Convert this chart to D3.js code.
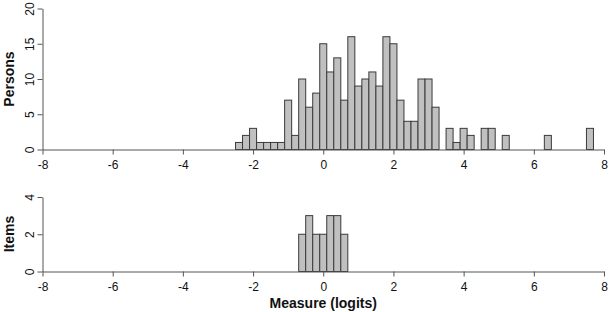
<!DOCTYPE html>
<html>
<head>
<meta charset="utf-8">
<script src="https://cdn.jsdelivr.net/npm/d3@7"></script>
<style>
  html, body { margin: 0; padding: 0; background: #fff; }
  svg { display: block; }
  text { font-family: "Liberation Sans", Arial, sans-serif; fill: #111; }
</style>
</head>
<body>
<svg id="chart" width="609" height="312"></svg>
<script>
// ---- data ----
const binWidth = 0.2;
const personCenters = [-2.4, -2.2, -2.0, -1.8, -1.6, -1.4, -1.2, -1.0, -0.8, -0.6, -0.4, -0.2, 0.0, 0.2, 0.4, 0.6, 0.8, 1.0, 1.2, 1.4, 1.6, 1.8, 2.0, 2.2, 2.4, 2.6, 2.8, 3.0, 3.2, 3.6, 3.8, 4.0, 4.2, 4.6, 4.8, 5.2, 6.4, 7.6];
const personCounts  = [1, 2, 3, 1, 1, 1, 1, 7, 2, 10, 6, 8, 15, 11, 13, 7, 16, 9, 10, 11, 9, 16, 15, 7, 4, 4, 10, 10, 6, 3, 1, 3, 2, 3, 3, 2, 2, 3];
const itemCenters = [-0.6, -0.4, -0.2, 0.0, 0.2, 0.4, 0.6];
const itemCounts  = [2, 3, 2, 2, 3, 3, 2];
const xTicks = [-8, -6, -4, -2, 0, 2, 4, 6, 8];
const personTicks = [0, 5, 10, 15, 20];
const itemTicks = [0, 2, 4];
const xTitle = "Measure (logits)";
const personTitle = "Persons";
const itemTitle = "Items";

// ---- drawing ----
const svg = d3.select("#chart");
const x = d3.scaleLinear().domain([-8, 8]).range([42.5, 604]);
const yP = d3.scaleLinear().domain([0, 20]).range([149.5, 8.5]);
const yI = d3.scaleLinear().domain([0, 4]).range([271.5, 197]);

const barFill = "#c0c0c0", barStroke = "#3a3a3a", axisCol = "#555";

function panel(centers, counts, y, yTicks, title, titleY) {
  const g = svg.append("g");
  g.selectAll("rect").data(centers).join("rect")
    .attr("x", d => x(d - binWidth / 2))
    .attr("width", d => x(d + binWidth / 2) - x(d - binWidth / 2))
    .attr("y", (d, i) => y(counts[i]))
    .attr("height", (d, i) => y(0) - y(counts[i]))
    .attr("fill", barFill).attr("stroke", barStroke).attr("stroke-width", 1);

  // x axis
  const xa = g.append("g").attr("transform", `translate(0,${y(0)})`)
    .call(d3.axisBottom(x).tickValues(xTicks).tickSize(5).tickSizeOuter(0).tickPadding(6)
      .tickFormat(d => d3.format("d")(d).replace("\u2212", "-")));
  xa.select(".domain").attr("stroke", axisCol);
  xa.selectAll(".tick line").attr("stroke", axisCol);
  xa.selectAll(".tick text").attr("font-size", 12).attr("fill", "#111")
    .attr("font-family", "Liberation Sans, Arial, sans-serif");

  // y axis
  const ya = g.append("g").attr("transform", `translate(${x(-8)},0)`)
    .call(d3.axisLeft(y).tickValues(yTicks).tickSize(5).tickSizeOuter(0).tickFormat(d3.format("d")));
  ya.select(".domain").attr("stroke", axisCol);
  ya.selectAll(".tick line").attr("stroke", axisCol);
  ya.selectAll(".tick text").remove();
  ya.selectAll(".tick").append("text")
    .attr("transform", "translate(-9,0) rotate(-90)")
    .attr("text-anchor", "middle")
    .attr("font-size", 12).text(d => d);

  g.append("text")
    .attr("transform", `translate(14,${titleY}) rotate(-90)`)
    .attr("text-anchor", "middle").attr("font-size", 14).attr("font-weight", "bold")
    .text(title);
}

panel(personCenters, personCounts, yP, personTicks, personTitle, 79);
panel(itemCenters, itemCounts, yI, itemTicks, itemTitle, 234);

svg.append("text").attr("x", x(0)).attr("y", 308)
  .attr("text-anchor", "middle").attr("font-size", 14).attr("font-weight", "bold")
  .text(xTitle);
</script>
</body>
</html>
